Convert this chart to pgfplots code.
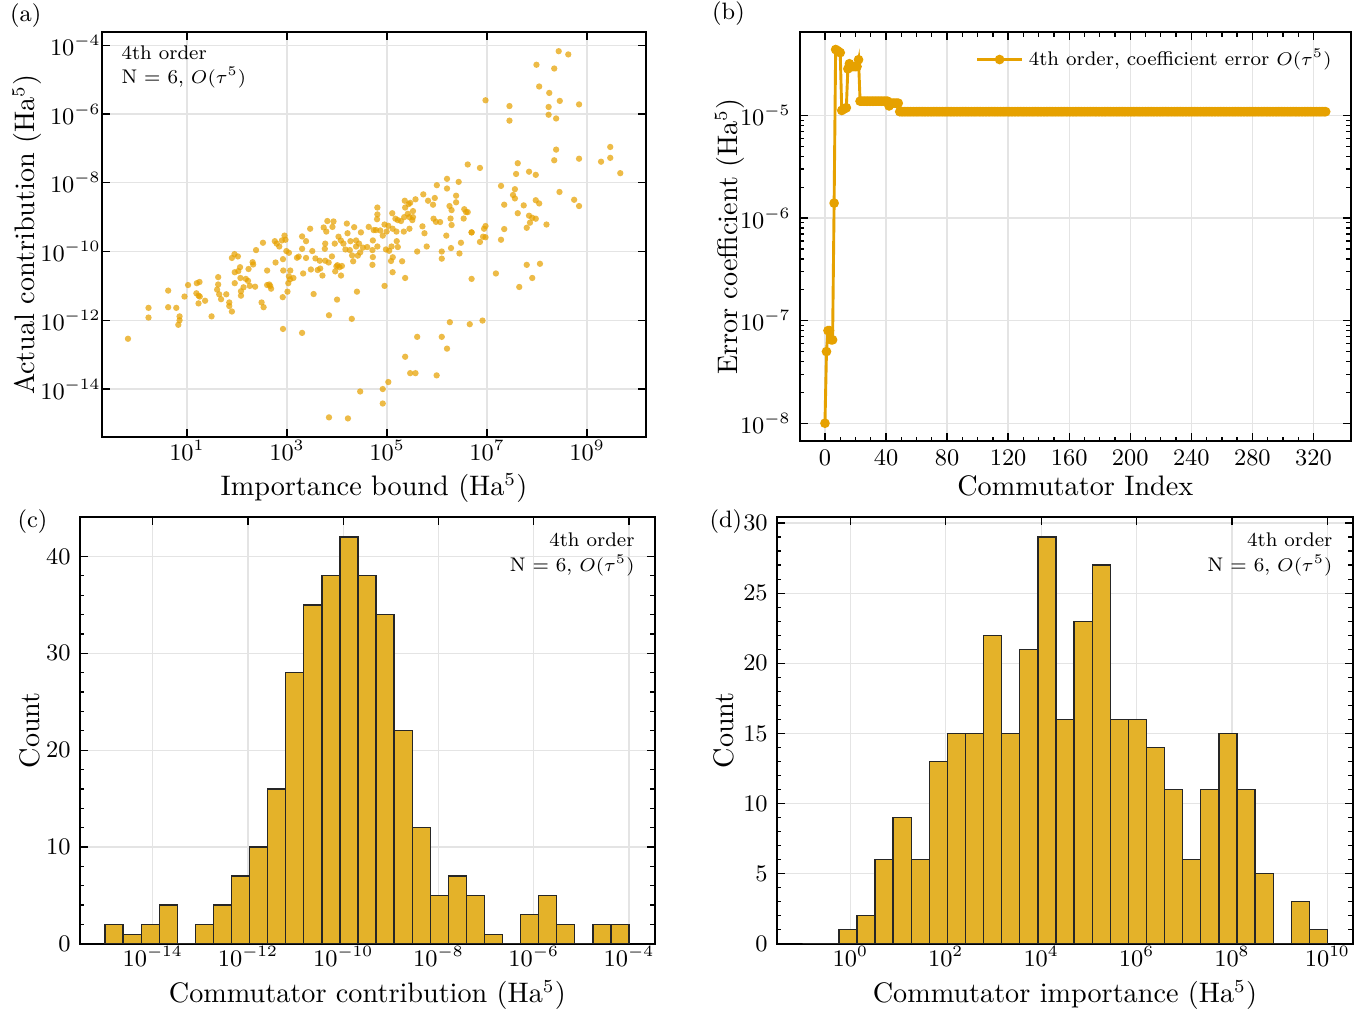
\documentclass[border=0pt]{standalone}
\usepackage{pgfplots}
\pgfplotsset{compat=1.18}
\definecolor{orng}{RGB}{230,161,0}
\definecolor{barc}{RGB}{228,178,41}
\definecolor{gridc}{RGB}{228,228,228}
\newcommand{\annfont}{\fontsize{7.5}{9.4}\selectfont}
\newcommand{\labfont}{\fontsize{10.7}{13}\selectfont}
\pgfplotsset{
  myax/.style={scale only axis, anchor=south west,
    axis line style={black, line width=0.6pt},
    every tick/.style={black, line width=0.5pt},
    major tick length=3pt, minor tick length=1.7pt,
    grid=major, major grid style={gridc, line width=0.5pt},
    tick label style={font=\small},
    label style={font=\labfont},
    tick align=inside,
  }
}
\begin{document}
\begin{tikzpicture}
\useasboundingbox (0,0) rectangle (520pt,384.2pt);
% ---------------- (a)
\begin{axis}[myax, at={(38.7pt,218.4pt)}, width=206.3pt, height=153.6pt,
  xmode=log, ymode=log, xmin=0.2, xmax=1.5e10, ymin=4e-16, ymax=2.4e-4,
  xtick={1e1,1e3,1e5,1e7,1e9}, ytick={1e-14,1e-12,1e-10,1e-8,1e-6,1e-4},
  xminorticks=false, yminorticks=false,
  xticklabel shift=-2.5pt, xlabel shift=-1.8pt,
  yticklabel shift=-3pt, ylabel shift=-7.5pt,
  xlabel={Importance bound (Ha$^5$)}, ylabel={Actual contribution (Ha$^5$)}]
\addplot[only marks, mark=*, mark size=1.2pt, mark options={fill=orng, draw opacity=0, fill opacity=0.72}] coordinates {
(2.7e8,6.7e-5)(4.2e8,5.4e-5)(9.7e7,2.7e-5)(2.2e8,2.1e-5)(1.1e8,6.3e-6)(1.75e8,4.1e-6)(2.84e8,2.4e-6)(9.3e6,2.5e-6)(2.8e7,1.7e-6)(6.9e8,1.9e-6)
(1.7e8,1.6e-6)(1.7e8,9.5e-7)(2.4e8,7.4e-7)(2.8e7,6.4e-7)(2.4e8,9.2e-8)(2.2e8,4.5e-8)(6.9e8,5.0e-8)(2.9e9,1.1e-7)(1.9e9,4.1e-8)(2.9e9,5.3e-8)
(4.6e9,1.9e-8)(4.1e6,3.4e-8)(7.2e6,2.7e-8)(4.1e7,3.7e-8)(3.8e7,1.8e-8)(6.9e7,2.1e-8)(9.4e7,1.7e-8)(1.9e7,8.1e-9)(3.6e7,6.5e-9)(3.3e7,4.4e-9)
(3.6e7,3.5e-9)(2.8e8,5.4e-9)(5.5e8,3.2e-9)(6.9e8,2.1e-9)(2.2e7,2.3e-9)(5.4e7,2.2e-9)(9.4e7,3.1e-9)(1.1e8,2.5e-9)(4.1e7,1.3e-9)(6.9e7,1.1e-9)
(8.0e7,9.6e-10)(9.4e7,9.0e-10)(7.2e7,6.9e-10)(6.2e7,4.9e-10)(1.54e8,6.1e-10)(2.2e7,4.5e-10)(1.9e7,2.2e-10)(1.5e7,2.3e-11)(6.2e7,4.1e-11)(1.14e8,4.4e-11)
(4.4e7,9.3e-12)(8.0e7,1.7e-11)(4.9e6,1.6e-11)(9.3e6,5.5e-10)(8.7e6,4.6e-10)(8.3e6,2.7e-10)(9.3e6,2.6e-10)(7.2e6,1.9e-10)(4.9e6,3.6e-10)(4.5e6,7.7e-13)
(8.1e6,9.8e-13)(1.8e6,8.8e-13)(1.24e6,3.3e-13)(1.58e6,1.5e-13)(9.8e5,2.5e-14)(4.0e5,3.3e-13)(2.3e5,8.7e-14)(2.9e5,2.9e-14)(3.7e5,2.9e-14)(1.06e5,1.6e-14)
(8.2e4,1.0e-14)(8.2e4,3.8e-15)(2.9e4,8.5e-15)(6.9e3,1.5e-15)(1.65e4,1.4e-15)(830,5.6e-13)(2000,4.3e-13)(6900,1.4e-12)(1.97e4,1.1e-12)(1.0e4,4.0e-12)
(2.5e4,6.8e-12)(3400,5.8e-12)(8.9e4,1.0e-11)(2.3e5,1.7e-11)(1.29e5,2.5e-11)(2.0e5,5.2e-11)(1.2e5,5.3e-11)(0.66,2.9e-13)(1.7,2.3e-12)(1.7,1.2e-12)
(4.2,7.3e-12)(4.2,2.4e-12)(6.1,2.3e-12)(7.1,1.3e-12)(7.1,1.0e-12)(6.7,7.4e-13)(8.9,4.9e-12)(10.5,1.06e-11)(15.7,1.2e-11)(17.8,1.3e-11)
(15.4,6.1e-12)(17,5.2e-12)(18,4.9e-12)(17,3.1e-12)(23,3.7e-12)(31,1.3e-12)(42,1.8e-11)(42,1.1e-11)(40,7.8e-12)(44,5.7e-12)
(48,4.1e-12)(61,5.7e-12)(70,3.3e-12)(70,2.6e-12)(79,1.8e-12)(79,6.5e-11)(89,8.4e-11)(104,7.2e-11)(90,2.5e-11)(106,2.7e-11)
(115,3.5e-11)(117,1.7e-11)(90,1.2e-11)(120,7.0e-12)(120,5.2e-12)(135,9.1e-12)(150,1.6e-11)(166,1.4e-11)(170,3.1e-11)(180,1.0e-11)
(205,4.9e-11)(210,4.2e-11)(230,9.5e-12)(240,1.1e-10)(310,3.3e-12)(340,2.4e-12)(330,1.8e-10)(400,2.8e-11)(400,1.06e-11)(440,1.1e-11)
(460,1.0e-11)(480,8.3e-12)(570,2.0e-10)(590,4.8e-11)(620,1.7e-10)(700,1.4e-10)(790,2.1e-10)(890,2.9e-10)(930,2.2e-10)(830,6.0e-11)
(840,2.8e-11)(820,4.7e-12)(970,1.03e-10)(1090,9.2e-11)(1160,2.8e-11)(1090,1.9e-11)(1150,1.55e-11)(1060,1.2e-11)(1020,6.8e-12)(1340,1.7e-11)
(1580,6.6e-11)(1710,7.1e-11)(2000,2.75e-10)(2000,1.2e-10)(2100,2.3e-11)(2400,2.0e-10)(2900,4.6e-10)(2400,6.5e-11)(3000,3.0e-11)(3200,1.03e-10)
(3700,6.3e-11)(4100,2.9e-11)(4500,5.4e-11)(4600,3.2e-11)(5100,2.0e-11)(5400,5.0e-10)(5700,1.2e-10)(5800,1.7e-10)(6400,7.7e-10)(6100,3.8e-10)
(5800,5.4e-11)(6800,4.8e-11)(7900,7.2e-11)(8100,5.2e-10)(8500,7.5e-10)(9000,1.7e-10)(9200,2.65e-11)(9700,3.7e-11)(10200,4.0e-11)(11200,3.5e-11)
(12000,2.0e-11)(12500,3.8e-11)(10700,2.7e-10)(11900,2.1e-10)(13400,1.7e-10)(14700,1.15e-10)(15700,6.5e-10)(16200,3.4e-10)(18500,2.0e-10)(18000,1.1e-10)
(20000,7.7e-11)(21000,5.2e-11)(22000,5.1e-10)(24000,2.1e-10)(24000,1.4e-10)(26000,7.6e-11)(27500,1.7e-10)(30000,3.6e-10)(29000,9.4e-11)(33000,1.3e-10)
(43000,5.2e-10)(40000,1.35e-10)(51000,1.1e-10)(52000,6.9e-11)(54000,4.2e-10)(52000,2.1e-10)(51000,4.1e-11)(64000,1.9e-9)(64000,1.2e-9)(63000,8.7e-10)
(60000,4.2e-10)(64000,1.4e-10)(73000,4.1e-10)(82000,2.9e-10)(89000,6.1e-10)(98000,3.8e-10)(1.06e5,5.6e-10)(9.5e4,1.15e-10)(1.1e5,1.05e-10)(1.27e5,1.3e-9)
(1.29e5,4.6e-10)(1.23e5,1.4e-10)(1.3e5,6.8e-11)(1.47e5,9.0e-10)(1.54e5,3.8e-10)(1.64e5,8.2e-10)(1.56e5,2.0e-10)(1.64e5,1.35e-10)(1.9e5,7.7e-10)(2.16e5,3.8e-10)
(2.2e5,1.0e-9)(2.26e5,3.0e-9)(2.3e5,1.9e-9)(2.7e5,2.4e-9)(2.9e5,2.6e-9)(2.6e5,1.25e-9)(2.8e5,1.0e-9)(3.2e5,8.2e-10)(2.8e5,4.6e-10)(3.3e5,1.5e-9)
(3.7e5,3.3e-9)(3.3e5,1.0e-9)(4.0e5,1.0e-10)(5.3e5,4.6e-9)(5.1e5,5.4e-10)(5.6e5,3.4e-10)(6.2e5,1.4e-10)(6.6e5,3.0e-9)(8.3e5,2.3e-9)(9.0e5,3.6e-9)
(8.5e5,9.0e-10)(9.9e5,8.5e-9)(9.5e5,7.3e-10)(1.15e6,7.2e-10)(1.24e6,1.0e-10)(1.24e6,6.2e-11)(1.58e6,1.3e-8)(1.58e6,6.8e-9)(1.53e6,2.9e-10)(1.77e6,2.1e-9)
(1.86e6,9.1e-10)(1.95e6,1.6e-9)(1.95e6,5.9e-10)(1.9e6,1.26e-10)(2.4e6,4.2e-9)(2.4e6,2.7e-9)(2.7e6,1.06e-8)(3.0e6,1.8e-10)(3.4e6,9.1e-10)(2.8e6,8.8e-11)
(3.5e6,1.7e-9)(3.8e6,1.4e-9)(4.1e6,1.4e-9)(4.9e6,3.6e-10)
};
\node[anchor=north west, align=left, font=\annfont, inner sep=1pt] at (rel axis cs:0.03,0.975) {4th order\\N = 6, $O(\tau^5)$};
\end{axis}
% ---------------- (b)
\begin{axis}[myax, at={(303.4pt,216.9pt)}, width=208.9pt, height=155.1pt,
  ymode=log, xmin=-16.4, xmax=344.4, ymin=6.7e-9, ymax=6.5e-5,
  xtick={0,40,...,320}, minor x tick num=3, ytick={1e-8,1e-7,1e-6,1e-5},
  xlabel shift=-3pt, ylabel shift=-8.5pt,
  xlabel={Commutator Index}, ylabel={Error coefficient (Ha$^5$)},
  legend style={draw=none, fill=none, at={(0.99,0.985)}, anchor=north east, font=\annfont},
  legend cell align=left]
\addplot[color=orng, line width=1.1pt, mark=*, mark size=1.25pt, mark options={solid, fill=orng, draw=orng}] coordinates {
(0,1.0e-8)(1,5.0e-8)(2,8.0e-8)(3,8.0e-8)(4,6.5e-8)(5,6.5e-8)(6,1.4e-6)(7,4.4e-5)(8,4.3e-5)(9,4.2e-5)
(10,4.1e-5)(11,1.12e-5)(12,1.15e-5)(13,1.17e-5)(14,1.19e-5)(15,2.85e-5)(16,3.2e-5)(17,3.0e-5)(18,3.0e-5)(19,3.0e-5)
(20,3.0e-5)(21,3.0e-5)(22,3.5e-5)(23,1.38e-5)(24,1.38e-5)(25,1.38e-5)(26,1.38e-5)(27,1.38e-5)(28,1.38e-5)(29,1.38e-5)
(30,1.38e-5)(31,1.38e-5)(32,1.38e-5)(33,1.38e-5)(34,1.38e-5)(35,1.38e-5)(36,1.38e-5)(37,1.38e-5)(38,1.38e-5)(39,1.38e-5)
(40,1.38e-5)(41,1.38e-5)(42,1.24e-5)(43,1.32e-5)(44,1.32e-5)(45,1.32e-5)(46,1.32e-5)(47,1.32e-5)(48,1.32e-5)(49,1.09e-5)
(50,1.09e-5)(51,1.09e-5)(52,1.09e-5)(53,1.09e-5)(54,1.09e-5)(55,1.09e-5)(56,1.09e-5)(57,1.09e-5)(58,1.09e-5)(59,1.09e-5)
(60,1.09e-5)(61,1.09e-5)(62,1.09e-5)(63,1.09e-5)(64,1.09e-5)(65,1.09e-5)(66,1.09e-5)(67,1.09e-5)(68,1.09e-5)(69,1.09e-5)
(70,1.09e-5)(71,1.09e-5)(72,1.09e-5)(73,1.09e-5)(74,1.09e-5)(75,1.09e-5)(76,1.09e-5)(77,1.09e-5)(78,1.09e-5)(79,1.09e-5)
(80,1.09e-5)(81,1.09e-5)(82,1.09e-5)(83,1.09e-5)(84,1.09e-5)(85,1.09e-5)(86,1.09e-5)(87,1.09e-5)(88,1.09e-5)(89,1.09e-5)
(90,1.09e-5)(91,1.09e-5)(92,1.09e-5)(93,1.09e-5)(94,1.09e-5)(95,1.09e-5)(96,1.09e-5)(97,1.09e-5)(98,1.09e-5)(99,1.09e-5)
(100,1.09e-5)(101,1.09e-5)(102,1.09e-5)(103,1.09e-5)(104,1.09e-5)(105,1.09e-5)(106,1.09e-5)(107,1.09e-5)(108,1.09e-5)(109,1.09e-5)
(110,1.09e-5)(111,1.09e-5)(112,1.09e-5)(113,1.09e-5)(114,1.09e-5)(115,1.09e-5)(116,1.09e-5)(117,1.09e-5)(118,1.09e-5)(119,1.09e-5)
(120,1.09e-5)(121,1.09e-5)(122,1.09e-5)(123,1.09e-5)(124,1.09e-5)(125,1.09e-5)(126,1.09e-5)(127,1.09e-5)(128,1.09e-5)(129,1.09e-5)
(130,1.09e-5)(131,1.09e-5)(132,1.09e-5)(133,1.09e-5)(134,1.09e-5)(135,1.09e-5)(136,1.09e-5)(137,1.09e-5)(138,1.09e-5)(139,1.09e-5)
(140,1.09e-5)(141,1.09e-5)(142,1.09e-5)(143,1.09e-5)(144,1.09e-5)(145,1.09e-5)(146,1.09e-5)(147,1.09e-5)(148,1.09e-5)(149,1.09e-5)
(150,1.09e-5)(151,1.09e-5)(152,1.09e-5)(153,1.09e-5)(154,1.09e-5)(155,1.09e-5)(156,1.09e-5)(157,1.09e-5)(158,1.09e-5)(159,1.09e-5)
(160,1.09e-5)(161,1.09e-5)(162,1.09e-5)(163,1.09e-5)(164,1.09e-5)(165,1.09e-5)(166,1.09e-5)(167,1.09e-5)(168,1.09e-5)(169,1.09e-5)
(170,1.09e-5)(171,1.09e-5)(172,1.09e-5)(173,1.09e-5)(174,1.09e-5)(175,1.09e-5)(176,1.09e-5)(177,1.09e-5)(178,1.09e-5)(179,1.09e-5)
(180,1.09e-5)(181,1.09e-5)(182,1.09e-5)(183,1.09e-5)(184,1.09e-5)(185,1.09e-5)(186,1.09e-5)(187,1.09e-5)(188,1.09e-5)(189,1.09e-5)
(190,1.09e-5)(191,1.09e-5)(192,1.09e-5)(193,1.09e-5)(194,1.09e-5)(195,1.09e-5)(196,1.09e-5)(197,1.09e-5)(198,1.09e-5)(199,1.09e-5)
(200,1.09e-5)(201,1.09e-5)(202,1.09e-5)(203,1.09e-5)(204,1.09e-5)(205,1.09e-5)(206,1.09e-5)(207,1.09e-5)(208,1.09e-5)(209,1.09e-5)
(210,1.09e-5)(211,1.09e-5)(212,1.09e-5)(213,1.09e-5)(214,1.09e-5)(215,1.09e-5)(216,1.09e-5)(217,1.09e-5)(218,1.09e-5)(219,1.09e-5)
(220,1.09e-5)(221,1.09e-5)(222,1.09e-5)(223,1.09e-5)(224,1.09e-5)(225,1.09e-5)(226,1.09e-5)(227,1.09e-5)(228,1.09e-5)(229,1.09e-5)
(230,1.09e-5)(231,1.09e-5)(232,1.09e-5)(233,1.09e-5)(234,1.09e-5)(235,1.09e-5)(236,1.09e-5)(237,1.09e-5)(238,1.09e-5)(239,1.09e-5)
(240,1.09e-5)(241,1.09e-5)(242,1.09e-5)(243,1.09e-5)(244,1.09e-5)(245,1.09e-5)(246,1.09e-5)(247,1.09e-5)(248,1.09e-5)(249,1.09e-5)
(250,1.09e-5)(251,1.09e-5)(252,1.09e-5)(253,1.09e-5)(254,1.09e-5)(255,1.09e-5)(256,1.09e-5)(257,1.09e-5)(258,1.09e-5)(259,1.09e-5)
(260,1.09e-5)(261,1.09e-5)(262,1.09e-5)(263,1.09e-5)(264,1.09e-5)(265,1.09e-5)(266,1.09e-5)(267,1.09e-5)(268,1.09e-5)(269,1.09e-5)
(270,1.09e-5)(271,1.09e-5)(272,1.09e-5)(273,1.09e-5)(274,1.09e-5)(275,1.09e-5)(276,1.09e-5)(277,1.09e-5)(278,1.09e-5)(279,1.09e-5)
(280,1.09e-5)(281,1.09e-5)(282,1.09e-5)(283,1.09e-5)(284,1.09e-5)(285,1.09e-5)(286,1.09e-5)(287,1.09e-5)(288,1.09e-5)(289,1.09e-5)
(290,1.09e-5)(291,1.09e-5)(292,1.09e-5)(293,1.09e-5)(294,1.09e-5)(295,1.09e-5)(296,1.09e-5)(297,1.09e-5)(298,1.09e-5)(299,1.09e-5)
(300,1.09e-5)(301,1.09e-5)(302,1.09e-5)(303,1.09e-5)(304,1.09e-5)(305,1.09e-5)(306,1.09e-5)(307,1.09e-5)(308,1.09e-5)(309,1.09e-5)
(310,1.09e-5)(311,1.09e-5)(312,1.09e-5)(313,1.09e-5)(314,1.09e-5)(315,1.09e-5)(316,1.09e-5)(317,1.09e-5)(318,1.09e-5)(319,1.09e-5)
(320,1.09e-5)(321,1.09e-5)(322,1.09e-5)(323,1.09e-5)(324,1.09e-5)(325,1.09e-5)(326,1.09e-5)(327,1.09e-5)(328,1.09e-5)
};
\addlegendentry{4th order, coefficient error $O(\tau^5)$}
\end{axis}
% ---------------- (c)
\begin{axis}[myax, at={(30.3pt,26.2pt)}, width=218.1pt, height=162pt,
  xmode=log, xmin=2.95e-16, xmax=3.5e-4, ymin=0, ymax=44.1,
  xtick={1e-14,1e-12,1e-10,1e-8,1e-6,1e-4}, xminorticks=false,
  ytick={0,10,20,30,40}, minor y tick num=4,
  xticklabel shift=-2.5pt, xlabel shift=-1.8pt, ylabel shift=-4.5pt,
  xlabel={Commutator contribution (Ha$^5$)}, ylabel={Count}]
\addplot[ybar interval, fill=barc, draw=black!85, line width=0.5pt] coordinates {
(1e-15,2)(2.39e-15,1)(5.74e-15,2)(1.374e-14,4)(3.29e-14,0)(7.88e-14,2)(1.89e-13,4)(4.52e-13,7)(1.082e-12,10)(2.594e-12,16)
(6.21e-12,28)(1.486e-11,35)(3.565e-11,38)(8.53e-11,42)(2.042e-10,38)(4.898e-10,34)(1.172e-9,22)(2.805e-9,12)(6.73e-9,5)(1.611e-8,7)
(3.855e-8,5)(9.25e-8,1)(2.213e-7,0)(5.297e-7,3)(1.268e-6,5)(3.041e-6,2)(7.278e-6,0)(1.742e-5,2)(4.178e-5,2)(1e-4,0)
};
\node[anchor=north east, align=right, font=\annfont, inner sep=1pt] at (rel axis cs:0.97,0.97) {4th order\\N = 6, $O(\tau^5)$};
\end{axis}
% ---------------- (d)
\begin{axis}[myax, at={(294.7pt,26.2pt)}, width=218.4pt, height=162pt,
  xmode=log, xmin=0.029, xmax=3.4e10, ymin=0, ymax=30.45,
  xtick={1,1e2,1e4,1e6,1e8,1e10}, xminorticks=false,
  ytick={0,5,...,30}, minor y tick num=4,
  xticklabel shift=-2.5pt, xlabel shift=-1.8pt, ylabel shift=-3.5pt,
  xlabel={Commutator importance (Ha$^5$)}, ylabel={Count}]
\addplot[ybar interval, fill=barc, draw=black!85, line width=0.5pt] coordinates {
(0.1,0)(0.239,0)(0.574,1)(1.374,2)(3.29,6)(7.88,9)(18.9,6)(45.2,13)(108.2,15)(259.4,15)
(621,22)(1486,15)(3565,21)(8531,29)(20420,16)(48980,23)(117200,27)(280500,16)(673000,16)(1.611e6,14)
(3.855e6,11)(9.25e6,6)(2.213e7,11)(5.297e7,15)(1.268e8,11)(3.041e8,5)(7.278e8,0)(1.742e9,3)(4.178e9,1)(1e10,0)
};
\node[anchor=north east, align=right, font=\annfont, inner sep=1pt] at (rel axis cs:0.97,0.97) {4th order\\N = 6, $O(\tau^5)$};
\end{axis}
% panel labels
\node[font=\small] at (9.8pt,378.3pt) {(a)};
\node[font=\small] at (276.3pt,379.0pt) {(b)};
\node[font=\small] at (12.3pt,186.2pt) {(c)};
\node[font=\small] at (275.3pt,186.2pt) {(d)};
\end{tikzpicture}
\end{document}
